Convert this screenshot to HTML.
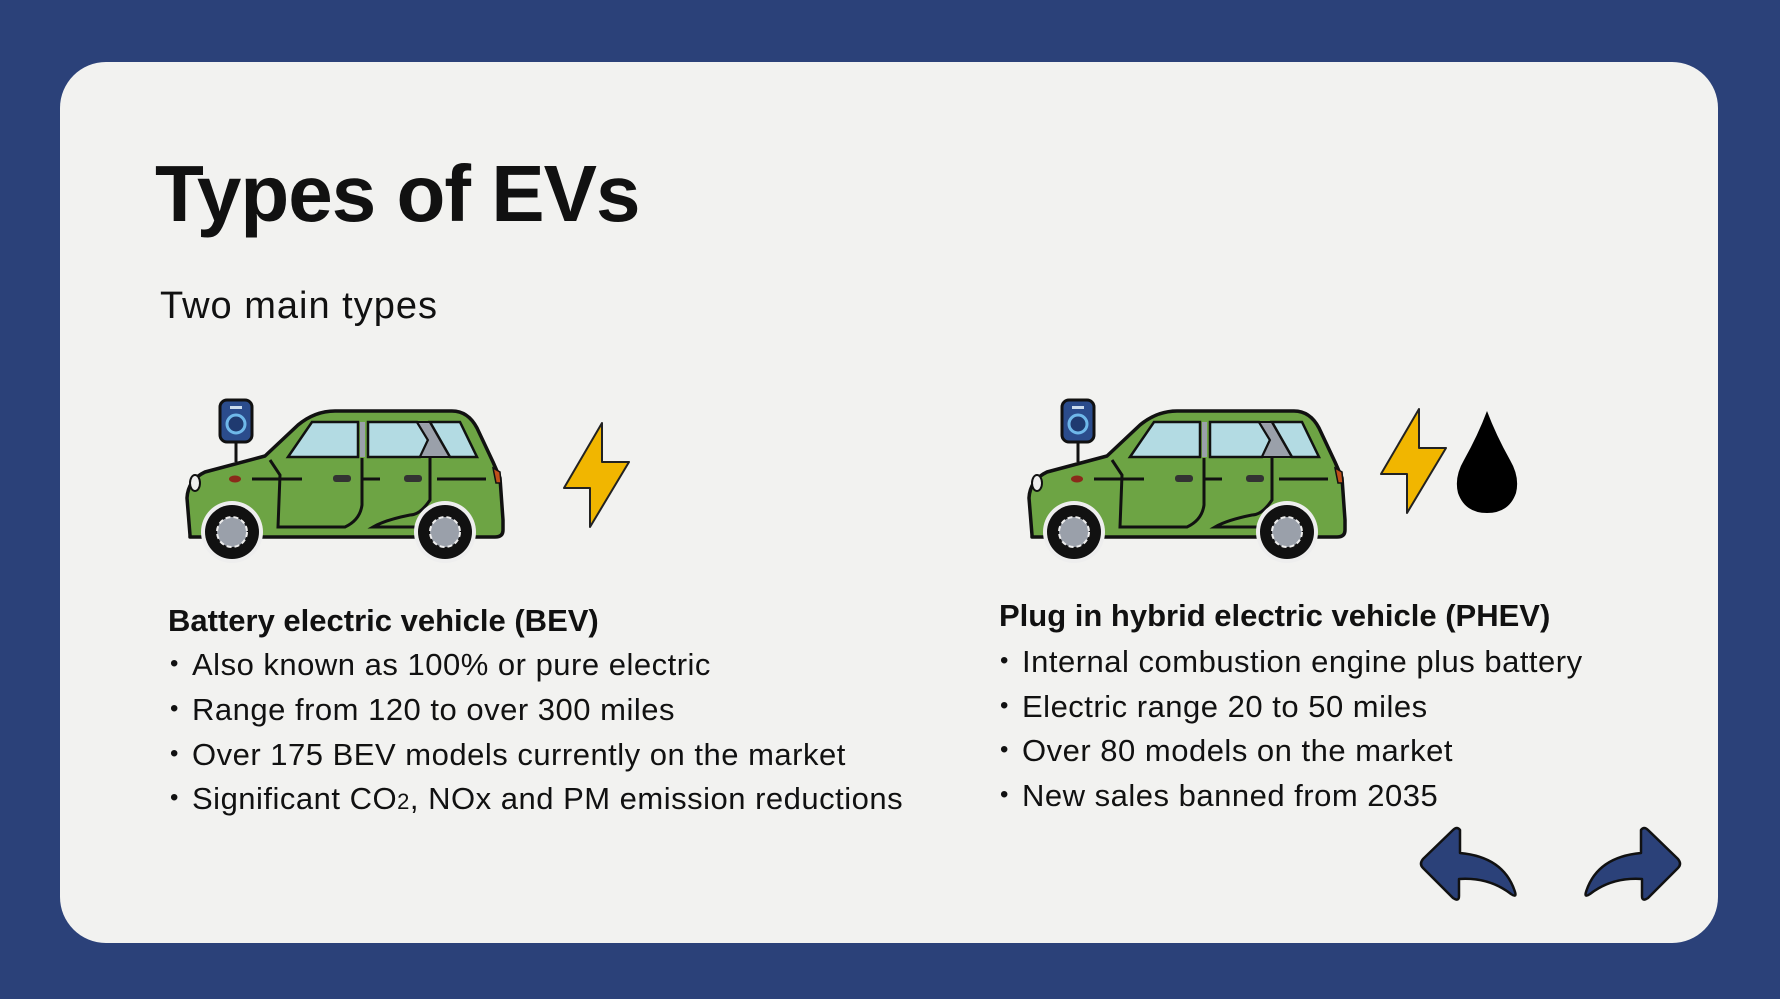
<!DOCTYPE html>
<html><head><meta charset="utf-8"><style>
html,body{margin:0;padding:0;}
body{width:1780px;height:999px;background:#2b4179;position:relative;overflow:hidden;font-family:"Liberation Sans",sans-serif;color:#111;}
.card{position:absolute;left:60px;top:62px;width:1658px;height:881px;background:#f2f2f0;border-radius:46px;}
.t{position:absolute;white-space:nowrap;}
h1{position:absolute;left:155px;top:148px;margin:0;font-size:80px;font-weight:bold;letter-spacing:-1px;}
.sub{left:160px;top:285px;font-size:38px;letter-spacing:1px;}
.hd{font-size:31px;font-weight:bold;}
.li{font-size:31px;letter-spacing:0.5px;}
.li:before{content:"•";position:absolute;left:-22px;font-size:24px;top:3px;}
svg{position:absolute;}
</style></head><body>
<div class="card"></div>
<h1>Types of EVs</h1>
<div class="t sub">Two main types</div>

<svg width="0" height="0" style="position:absolute">
<defs>
<g id="car">
  <line x1="66" y1="55" x2="66" y2="82" stroke="#111" stroke-width="3"/>
  <rect x="50" y="20" width="32" height="42" rx="7" fill="#2b4c8c" stroke="#111" stroke-width="3"/>
  <rect x="60" y="26" width="12" height="3" fill="#cde"/>
  <circle cx="66" cy="44" r="9" fill="#1f3a70" stroke="#6fb8ea" stroke-width="3"/>
  <path d="M20,155 L17,118 Q18,100 35,92 L95,76 L128,45 Q145,31 165,31 L282,31 Q298,31 307,48 L323,82 L330,98 L333,140 L333,150 Q333,157 325,157 L20,157 Z" fill="#6da444" stroke="#111" stroke-width="3.5" stroke-linejoin="round"/>
  <path d="M118,77 L142,42 L188,42 L188,77 Z" fill="#b3dbe3" stroke="#111" stroke-width="2.5"/>
  <path d="M190,42 L195,42 L195,77 L190,77Z" fill="#9aa0aa"/>
  <path d="M198,42 L247,42 L258,60 L250,77 L198,77 Z" fill="#b3dbe3" stroke="#111" stroke-width="2.5"/>
  <path d="M247,42 L260,42 L280,77 L250,77 L258,60Z" fill="#9aa0aa" stroke="#111" stroke-width="2"/>
  <path d="M260,42 L290,42 L307,77 L280,77 Z" fill="#b3dbe3" stroke="#111" stroke-width="2.5"/>
  <path d="M100,80 L110,95 L108,147 L175,147 Q190,140 192,125 L192,78" fill="none" stroke="#111" stroke-width="3"/>
  <path d="M260,78 L260,120 Q250,135 240,135 Q215,140 203,147 L250,147" fill="none" stroke="#111" stroke-width="3"/>
  <line x1="82" y1="99" x2="132" y2="99" stroke="#111" stroke-width="3"/>
  <line x1="193" y1="99" x2="210" y2="99" stroke="#111" stroke-width="3"/>
  <line x1="267" y1="99" x2="316" y2="99" stroke="#111" stroke-width="3"/>
  <rect x="163" y="95" width="18" height="7" rx="3" fill="#333"/>
  <rect x="234" y="95" width="18" height="7" rx="3" fill="#333"/>
  <ellipse cx="65" cy="99" rx="6" ry="3.5" fill="#8a2a1a"/>
  <path d="M323,88 L330,92 L331,103 L326,103Z" fill="#c0501a" stroke="#111" stroke-width="1.5"/>
  <ellipse cx="25" cy="103" rx="5" ry="8" fill="#eee" stroke="#111" stroke-width="2"/>
  <circle cx="62" cy="152" r="31" fill="#eee"/>
  <circle cx="62" cy="152" r="27" fill="#111"/>
  <circle cx="62" cy="152" r="15" fill="#9aa0aa" stroke="#eee" stroke-width="2" stroke-dasharray="5 3"/>
  <circle cx="275" cy="152" r="31" fill="#eee"/>
  <circle cx="275" cy="152" r="27" fill="#111"/>
  <circle cx="275" cy="152" r="15" fill="#9aa0aa" stroke="#eee" stroke-width="2" stroke-dasharray="5 3"/>
</g>
<polygon id="bolt" points="432,43 394,108 420,108 420,147 459,82 432,82" fill="#f1b600" stroke="#222" stroke-width="2" stroke-linejoin="round"/>
</defs></svg>

<svg style="left:170px;top:380px" width="480" height="200" viewBox="0 0 480 200"><use href="#car"/><use href="#bolt"/></svg>
<svg style="left:1012px;top:380px" width="480" height="200" viewBox="0 0 480 200"><use href="#car"/></svg>
<svg style="left:1370px;top:405px" width="160" height="115" viewBox="0 0 160 115">
<polygon points="49,4 11,69 37,69 37,108 76,43 49,43" fill="#f1b600" stroke="#222" stroke-width="2" stroke-linejoin="round"/>
<path d="M117,6 Q108,30 94,55 Q84,72 88,88 Q95,108 117,108 Q139,108 146,88 Q150,72 140,55 Q126,30 117,6Z" fill="#000"/>
</svg>

<div class="t hd" style="left:168px;top:603px">Battery electric vehicle (BEV)</div>
<div class="t li" style="left:192px;top:647px">Also known as 100% or pure electric</div>
<div class="t li" style="left:192px;top:692px">Range from 120 to over 300 miles</div>
<div class="t li" style="left:192px;top:737px">Over 175 BEV models currently on the market</div>
<div class="t li" style="left:192px;top:781px">Significant CO<span style="font-size:22px">2</span>, NOx and PM emission reductions</div>

<div class="t hd" style="left:999px;top:598px">Plug in hybrid electric vehicle (PHEV)</div>
<div class="t li" style="left:1022px;top:644px">Internal combustion engine plus battery</div>
<div class="t li" style="left:1022px;top:689px">Electric range 20 to 50 miles</div>
<div class="t li" style="left:1022px;top:733px">Over 80 models on the market</div>
<div class="t li" style="left:1022px;top:778px">New sales banned from 2035</div>

<svg style="left:1399px;top:822px" width="320" height="90" viewBox="0 0 320 90">
<path d="M61,8 Q58,4 54,8 L24,37 Q20,42 24,46 L54,76 Q60,80 60,74 L60,57 Q90,55 112,72 Q118,76 116,70 Q105,35 61,31 Z" fill="#2b4179" stroke="#111" stroke-width="2.5" stroke-linejoin="round"/>
<g transform="translate(23,0)">
<path d="M219,8 Q222,4 226,8 L256,37 Q260,42 256,46 L226,76 Q220,80 220,74 L220,57 Q190,55 168,72 Q162,76 164,70 Q175,35 219,31 Z" fill="#2b4179" stroke="#111" stroke-width="2.5" stroke-linejoin="round"/>
</g>
</svg>
</body></html>
